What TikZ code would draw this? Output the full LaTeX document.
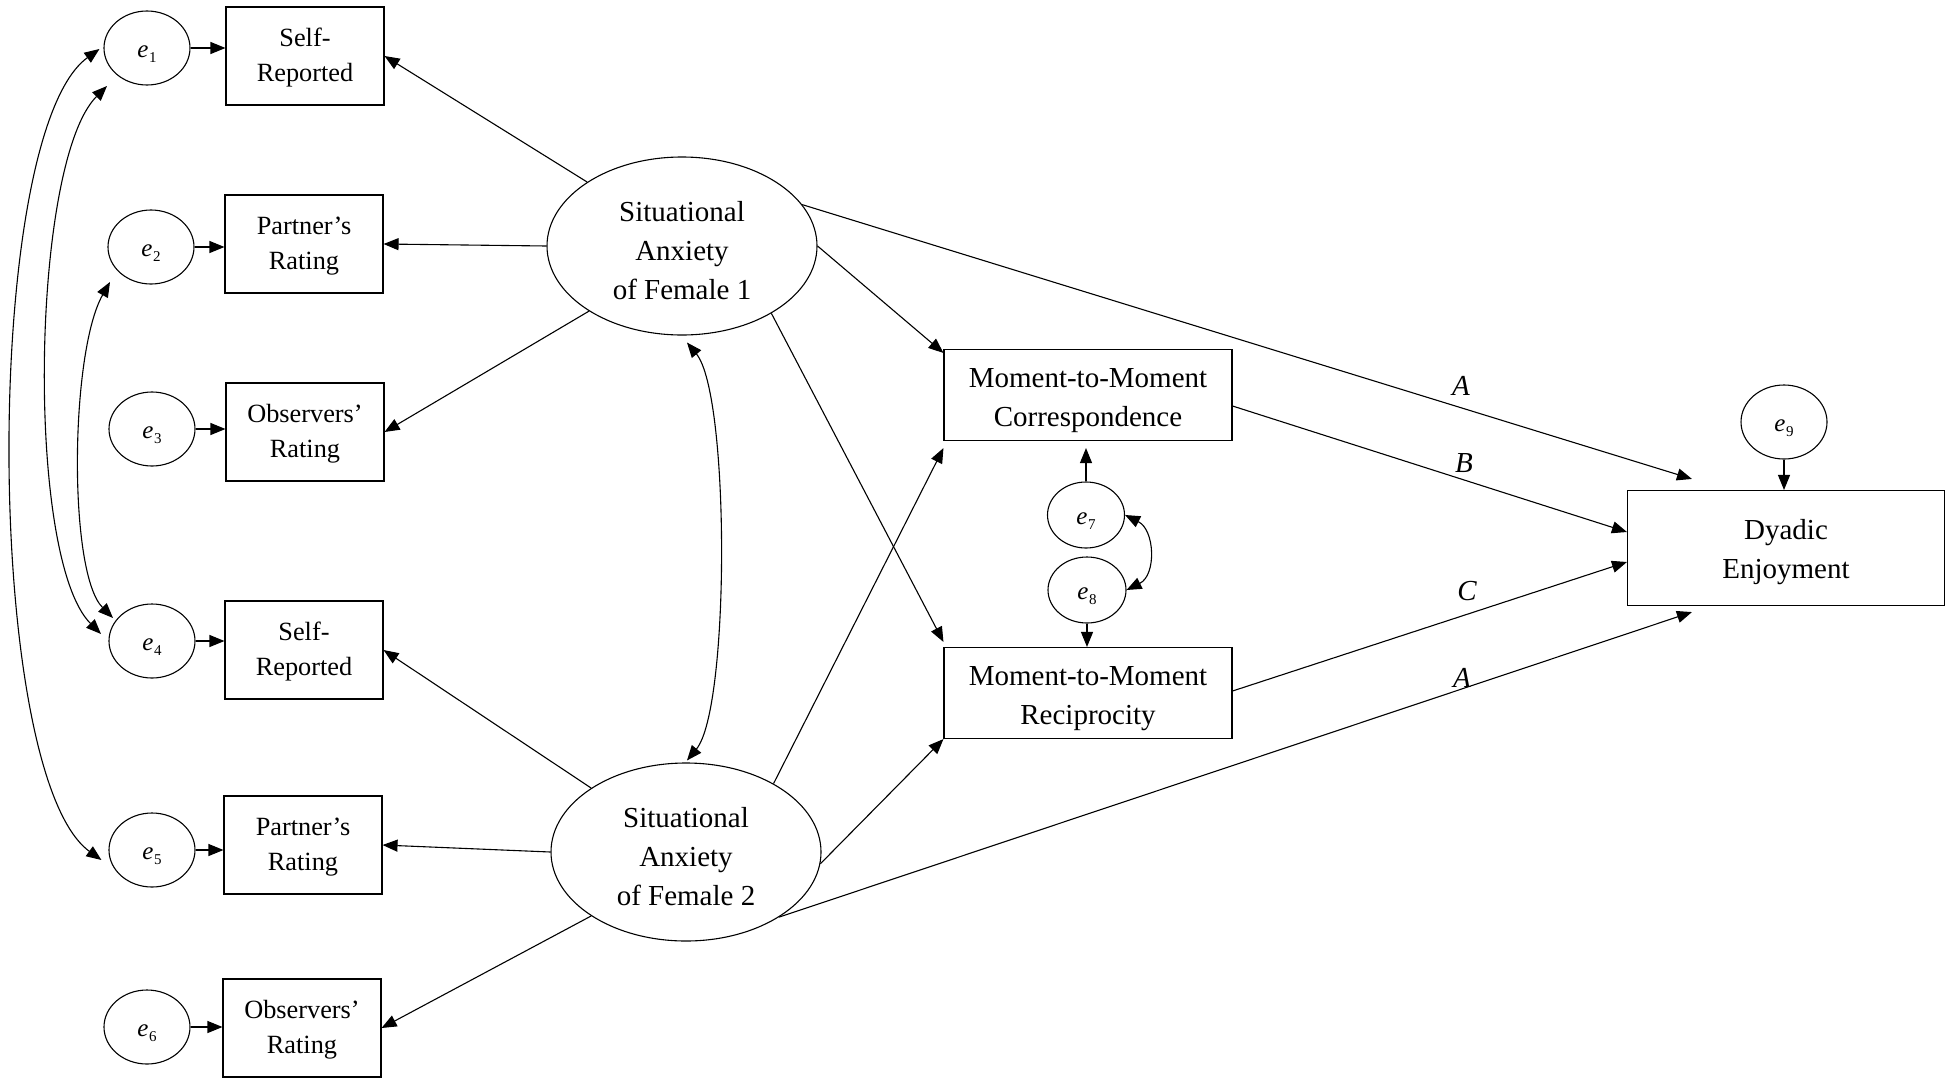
\documentclass[tikz,border=0pt]{standalone}
\usepackage{fontspec}
\setmainfont{Liberation Serif}
\usetikzlibrary{arrows.meta,calc,shapes.geometric}

% error term label: italic e with a lowered index
\newcommand{\evar}[1]{\textit{e}\kern0.5pt\raisebox{-5pt}{\fontsize{15}{15}\selectfont #1}}
% invisible strut that sets the height of a first text line
\newcommand{\hstrut}[1]{\rule{0pt}{#1pt}}

\begin{document}
\begin{tikzpicture}[x=1pt,y=-1pt,line width=1.1pt,
  >={Triangle[length=15pt,width=12pt]},
  err/.style={ellipse,draw,minimum width=86pt,minimum height=74pt,inner sep=0pt,
    text height=18pt,text depth=0pt,font=\fontsize{25}{25}\selectfont},
  ind/.style={rectangle,draw,minimum width=158pt,minimum height=98pt,inner sep=0pt,
    align=center,font=\fontsize{26.3}{35.5}\selectfont},
  latent/.style={ellipse,draw,minimum width=270pt,minimum height=178pt,inner sep=0pt,
    align=center,font=\fontsize{29}{39}\selectfont},
  medbox/.style={rectangle,draw,minimum width=288pt,minimum height=91pt,inner sep=0pt,
    align=center,font=\fontsize{29}{38.5}\selectfont},
  outbox/.style={rectangle,draw,minimum width=317pt,minimum height=115pt,inner sep=0pt,
    align=center,font=\fontsize{29}{39.5}\selectfont},
  pathlab/.style={font=\fontsize{29}{29}\selectfont\itshape,inner sep=0pt}
]
\path[fill=white] (0,0) rectangle (1948,1079);
\useasboundingbox (0,0) rectangle (1948,1079);

% error terms of the indicators
\node[err] (e1) at (147,48)   {\evar{1}};
\node[err] (e2) at (151,247)  {\evar{2}};
\node[err] (e3) at (152,429)  {\evar{3}};
\node[err] (e4) at (152,641)  {\evar{4}};
\node[err] (e5) at (152,850)  {\evar{5}};
\node[err] (e6) at (147,1027) {\evar{6}};

% indicators
\node[ind] (sr1) at (305,56)   {\hstrut{22}Self-\\Reported};
\node[ind] (pr1) at (304,244)  {\hstrut{22}Partner’s\\Rating};
\node[ind] (or1) at (305,432)  {\hstrut{22}Observers’\\Rating};
\node[ind] (sr2) at (304,650)  {\hstrut{22}Self-\\Reported};
\node[ind] (pr2) at (303,845)  {\hstrut{22}Partner’s\\Rating};
\node[ind] (or2) at (302,1028) {\hstrut{22}Observers’\\Rating};

% latent variables
\node[latent] (sa1) at (682,246) {\hstrut{30}Situational\\Anxiety\\of Female 1};
\node[latent] (sa2) at (686,852) {\hstrut{30}Situational\\Anxiety\\of Female 2};

% mediators and outcome
\node[medbox] (corr)  at (1088,395) {\hstrut{30}Moment-to-Moment\\Correspondence};
\node[medbox] (recip) at (1088,693) {\hstrut{30}Moment-to-Moment\\Reciprocity};
\node[err,minimum width=77pt,minimum height=66pt] (e7) at (1086,515) {\evar{7}};
\node[err,minimum width=78pt,minimum height=66pt] (e8) at (1087,590) {\evar{8}};
\node[outbox] (de) at (1786,548) {\hstrut{28}Dyadic\\Enjoyment};
\node[err] (e9) at (1784,422) {\evar{9}};

% error terms to indicators
\foreach \i/\b in {1/sr1,2/pr1,3/or1,4/sr2,5/pr2,6/or2}
  \draw[->] (e\i.east) -- (e\i.east -| \b.west);

% loadings
\draw[->] (sa1.146)  -- (sr1.east);
\draw[->] (sa1.west) -- (pr1.east);
\draw[->] (sa1.-145) -- (or1.east);
\draw[->] (sa2.146)  -- (sr2.east);
\draw[->] (sa2.west) -- (pr2.east);
\draw[->] (sa2.-146) -- (or2.east);

% structural paths
\draw[->] (sa1.east)  -- ($(corr.north west)+(0,4)$);
\draw[->] (sa1.-37)   -- ($(recip.north west)+(0,-5)$);
\draw[->] (sa1.19.7)  -- ($(de.north west)+(65,-11)$);
\draw[->] (sa2.38)    -- ($(corr.south west)+(0,7)$);
\draw[->] (sa2.-5.5)  -- (recip.south west);
\draw[->] (sa2.-35.5) -- ($(de.south west)+(65,6)$);
\draw[->] ($(corr.east)+(0,11)$)  -- ($(de.west)+(0,-16)$);
\draw[->] ($(recip.east)+(0,-2)$) -- ($(de.west)+(0,14)$);

% path labels
\node[pathlab] (la1) at (1461,386) {A};
\node[pathlab] (lb)  at (1464,463) {B};
\node[pathlab] (lc)  at (1467,591) {C};
\node[pathlab] (la2) at (1462,678) {A};

% disturbances of the mediators and outcome
\draw[->,shorten >=7pt] (e7) -- (e7 |- corr.south);
\draw[->] (e8) -- (e8 |- recip.north);
\draw[->] (e9) -- (e9 |- de.north);
\draw[<->] (e7.east) .. controls +(30,15) and +(30,-15) .. (e8.east);

% covariance of the latent variables
\draw[<->] ($(sa1.south)+(5,7)$) .. controls +(43,52) and +(43,-52) .. ($(sa2.north)+(1,-2)$);

% correlated indicator errors
\draw[<->] ($(e1.west)+(-4,1)$) .. controls +(-118,85) and +(-118,-85) .. ($(e5.west)+(-7,10)$);
\draw[<->] ($(e1)+(-40,38)$) .. controls +(-76,76) and +(-76,-76) .. ($(e4)+(-51,-7)$);
\draw[<->] ($(e2)+(-41,35)$) .. controls +(-40,70) and +(-45,-45) .. ($(e4)+(-39,-23)$);
\end{tikzpicture}
\end{document}
